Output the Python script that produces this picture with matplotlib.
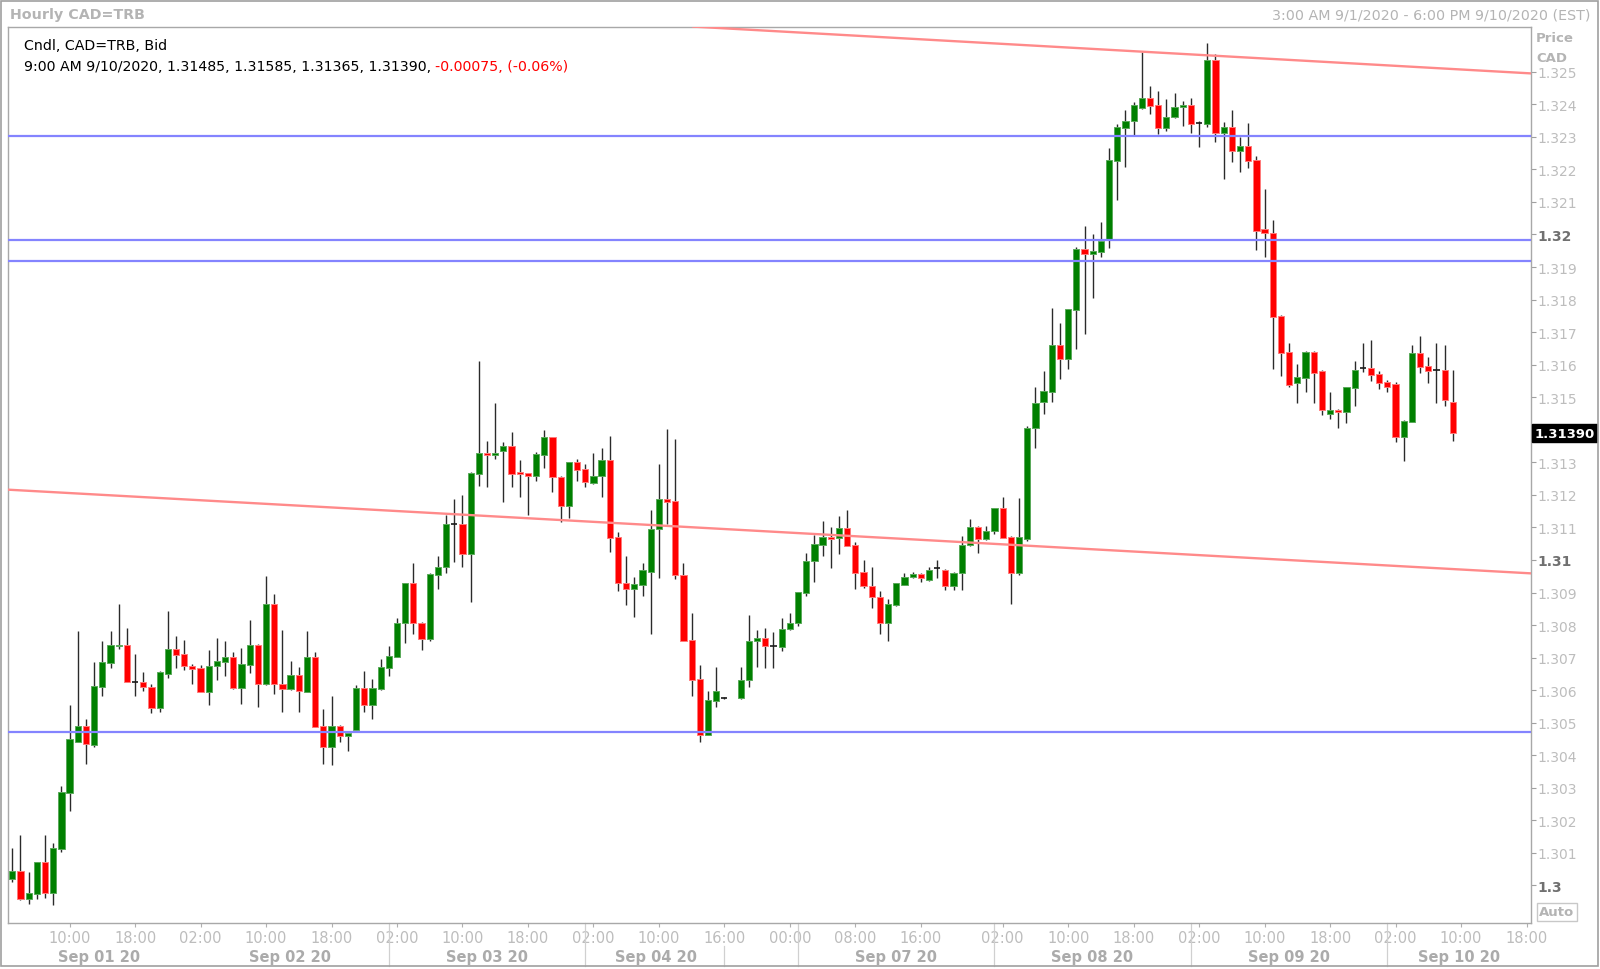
import numpy as np
import matplotlib
matplotlib.use('Agg')
import matplotlib.pyplot as plt
import matplotlib.transforms as mtransforms
from matplotlib.patches import Rectangle

plt.rcParams['font.family'] = ['DejaVu Sans']

# hourly CAD=TRB candles, 3:00 AM 9/1/2020 .. 9:00 AM 9/10/2020 (EST)
# one entry per hour slot, None = no trading (weekend gap)
opens = [
    1.30020, 1.30045, 1.29958, 1.29975, 1.30071, 1.29977, 1.30112, 1.30284, 1.30442, 1.30491,
    1.30432, 1.30609, 1.30685, 1.30735, 1.30740, 1.30626, 1.30626, 1.30611, 1.30544, 1.30649,
    1.30726, 1.30711, 1.30675, 1.30667, 1.30595, 1.30673, 1.30687, 1.30701, 1.30608, 1.30678,
    1.30739, 1.30618, 1.30865, 1.30620, 1.30603, 1.30647, 1.30595, 1.30701, 1.30491, 1.30427,
    1.30491, 1.30460, 1.30478, 1.30606, 1.30554, 1.30604, 1.30668, 1.30703, 1.30805, 1.30929,
    1.30806, 1.30757, 1.30955, 1.30977, 1.31110, 1.31110, 1.31018, 1.31264, 1.31328, 1.31324,
    1.31334, 1.31349, 1.31271, 1.31266, 1.31258, 1.31324, 1.31377, 1.31256, 1.31165, 1.31300,
    1.31280, 1.31237, 1.31257, 1.31307, 1.31070, 1.30929, 1.30910, 1.30924, 1.30964, 1.31094,
    1.31187, 1.31180, 1.30955, 1.30754, 1.30635, 1.30461, 1.30568, 1.30575, None, 1.30575,
    1.30631, 1.30750, 1.30759, 1.30735, 1.30734, 1.30788, 1.30805, 1.30898, 1.30996, 1.31047,
    1.31070, 1.31067, 1.31097, 1.31046, 1.30962, 1.30921, 1.30885, 1.30805, 1.30862, 1.30924,
    1.30948, 1.30957, 1.30938, 1.30975, 1.30970, 1.30919, 1.30959, 1.31046, 1.31102, 1.31064,
    1.31088, 1.31159, 1.31071, 1.30960, 1.31065, 1.31405, 1.31484, 1.31517, 1.31660, 1.31617,
    1.31769, 1.31954, 1.31939, 1.31946, 1.31984, 1.32227, 1.32327, 1.32349, 1.32389, 1.32419,
    1.32398, 1.32327, 1.32360, 1.32391, 1.32398, 1.32342, 1.32339, 1.32537, 1.32311, 1.32329,
    1.32258, 1.32271, 1.32230, 1.32016, 1.32005, 1.31751, 1.31638, 1.31544, 1.31559, 1.31640,
    1.31582, 1.31448, 1.31462, 1.31454, 1.31529, 1.31589, 1.31590, 1.31570, 1.31546, 1.31541,
    1.31377, 1.31425, 1.31636, 1.31595, 1.31583, 1.31584, 1.31485,
]
highs = [
    1.30114, 1.30155, 1.30040, 1.30073, 1.30155, 1.30132, 1.30307, 1.30555, 1.30781, 1.30511,
    1.30687, 1.30750, 1.30781, 1.30865, 1.30790, 1.30711, 1.30655, 1.30619, 1.30658, 1.30842,
    1.30765, 1.30754, 1.30681, 1.30677, 1.30722, 1.30759, 1.30751, 1.30716, 1.30730, 1.30815,
    1.30741, 1.30952, 1.30895, 1.30786, 1.30689, 1.30670, 1.30781, 1.30716, 1.30542, 1.30581,
    1.30493, 1.30468, 1.30617, 1.30660, 1.30634, 1.30696, 1.30737, 1.30822, 1.30930, 1.30991,
    1.30808, 1.30959, 1.31012, 1.31139, 1.31187, 1.31200, 1.31270, 1.31610, 1.31365, 1.31482,
    1.31364, 1.31394, 1.31307, 1.31268, 1.31331, 1.31400, 1.31379, 1.31258, 1.31302, 1.31310,
    1.31295, 1.31328, 1.31343, 1.31380, 1.31085, 1.31011, 1.30947, 1.30990, 1.31155, 1.31295,
    1.31401, 1.31372, 1.30990, 1.30836, 1.30676, 1.30599, 1.30670, 1.30578, None, 1.30670,
    1.30831, 1.30786, 1.30790, 1.30780, 1.30822, 1.30837, 1.30901, 1.31020, 1.31077, 1.31119,
    1.31102, 1.31136, 1.31155, 1.31056, 1.31000, 1.30979, 1.30905, 1.30880, 1.30930, 1.30959,
    1.30962, 1.30959, 1.30979, 1.31000, 1.30972, 1.30963, 1.31074, 1.31125, 1.31104, 1.31103,
    1.31161, 1.31195, 1.31073, 1.31190, 1.31413, 1.31530, 1.31582, 1.31774, 1.31729, 1.31772,
    1.31963, 1.32025, 1.32003, 1.32039, 1.32265, 1.32341, 1.32381, 1.32406, 1.32560, 1.32455,
    1.32440, 1.32416, 1.32434, 1.32411, 1.32419, 1.32348, 1.32588, 1.32555, 1.32347, 1.32384,
    1.32299, 1.32342, 1.32242, 1.32140, 1.32046, 1.31753, 1.31666, 1.31602, 1.31642, 1.31642,
    1.31584, 1.31517, 1.31464, 1.31533, 1.31611, 1.31667, 1.31676, 1.31582, 1.31554, 1.31548,
    1.31431, 1.31661, 1.31687, 1.31625, 1.31667, 1.31661, 1.31585,
]
lows = [
    1.30012, 1.29955, 1.29943, 1.29958, 1.29963, 1.29940, 1.30104, 1.30230, 1.30440, 1.30372,
    1.30424, 1.30583, 1.30667, 1.30728, 1.30624, 1.30583, 1.30598, 1.30530, 1.30532, 1.30638,
    1.30667, 1.30663, 1.30618, 1.30595, 1.30554, 1.30630, 1.30644, 1.30603, 1.30559, 1.30652,
    1.30548, 1.30616, 1.30589, 1.30534, 1.30600, 1.30534, 1.30593, 1.30486, 1.30373, 1.30370,
    1.30440, 1.30414, 1.30476, 1.30534, 1.30513, 1.30601, 1.30645, 1.30701, 1.30744, 1.30773,
    1.30723, 1.30752, 1.30911, 1.30960, 1.30995, 1.30977, 1.30870, 1.31228, 1.31223, 1.31310,
    1.31179, 1.31223, 1.31192, 1.31138, 1.31244, 1.31284, 1.31208, 1.31118, 1.31129, 1.31244,
    1.31223, 1.31234, 1.31195, 1.31024, 1.30904, 1.30863, 1.30824, 1.30890, 1.30773, 1.30945,
    1.31111, 1.30942, 1.30752, 1.30583, 1.30440, 1.30461, 1.30548, 1.30573, None, 1.30573,
    1.30609, 1.30672, 1.30667, 1.30667, 1.30721, 1.30786, 1.30798, 1.30890, 1.30933, 1.31011,
    1.30975, 1.31018, 1.31042, 1.30911, 1.30914, 1.30854, 1.30772, 1.30752, 1.30860, 1.30924,
    1.30946, 1.30933, 1.30934, 1.30946, 1.30909, 1.30909, 1.30909, 1.31044, 1.31023, 1.31062,
    1.31081, 1.31069, 1.30864, 1.30953, 1.31058, 1.31343, 1.31448, 1.31484, 1.31555, 1.31587,
    1.31649, 1.31693, 1.31805, 1.31932, 1.31959, 1.32107, 1.32207, 1.32307, 1.32385, 1.32370,
    1.32309, 1.32319, 1.32358, 1.32334, 1.32311, 1.32270, 1.32329, 1.32283, 1.32171, 1.32222,
    1.32191, 1.32204, 1.31952, 1.31930, 1.31587, 1.31564, 1.31530, 1.31481, 1.31517, 1.31482,
    1.31446, 1.31434, 1.31405, 1.31420, 1.31474, 1.31579, 1.31551, 1.31524, 1.31515, 1.31362,
    1.31305, 1.31423, 1.31574, 1.31544, 1.31483, 1.31474, 1.31365,
]
closes = [
    1.30045, 1.29958, 1.29977, 1.30071, 1.29977, 1.30114, 1.30288, 1.30450, 1.30491, 1.30434,
    1.30612, 1.30687, 1.30740, 1.30740, 1.30624, 1.30625, 1.30609, 1.30544, 1.30655, 1.30726,
    1.30708, 1.30673, 1.30665, 1.30595, 1.30675, 1.30689, 1.30701, 1.30608, 1.30680, 1.30739,
    1.30618, 1.30865, 1.30618, 1.30603, 1.30646, 1.30598, 1.30701, 1.30488, 1.30427, 1.30491,
    1.30460, 1.30468, 1.30606, 1.30554, 1.30606, 1.30670, 1.30704, 1.30806, 1.30929, 1.30805,
    1.30758, 1.30957, 1.30979, 1.31110, 1.31109, 1.31018, 1.31266, 1.31328, 1.31324, 1.31328,
    1.31349, 1.31264, 1.31264, 1.31258, 1.31325, 1.31377, 1.31256, 1.31165, 1.31300, 1.31277,
    1.31239, 1.31259, 1.31307, 1.31068, 1.30929, 1.30910, 1.30926, 1.30970, 1.31095, 1.31187,
    1.31179, 1.30954, 1.30752, 1.30632, 1.30461, 1.30570, 1.30599, 1.30575, None, 1.30631,
    1.30752, 1.30759, 1.30735, 1.30736, 1.30788, 1.30806, 1.30901, 1.30996, 1.31049, 1.31070,
    1.31066, 1.31097, 1.31044, 1.30959, 1.30919, 1.30885, 1.30805, 1.30864, 1.30928, 1.30949,
    1.30957, 1.30944, 1.30970, 1.30974, 1.30919, 1.30961, 1.31046, 1.31102, 1.31064, 1.31090,
    1.31159, 1.31069, 1.30959, 1.31071, 1.31406, 1.31482, 1.31519, 1.31660, 1.31617, 1.31770,
    1.31954, 1.31939, 1.31949, 1.31979, 1.32229, 1.32329, 1.32350, 1.32398, 1.32419, 1.32394,
    1.32327, 1.32360, 1.32391, 1.32398, 1.32339, 1.32341, 1.32537, 1.32311, 1.32329, 1.32258,
    1.32271, 1.32227, 1.32010, 1.32004, 1.31748, 1.31635, 1.31539, 1.31561, 1.31640, 1.31574,
    1.31462, 1.31462, 1.31454, 1.31531, 1.31584, 1.31588, 1.31569, 1.31544, 1.31533, 1.31377,
    1.31426, 1.31636, 1.31594, 1.31582, 1.31582, 1.31490, 1.31390,
]

# horizontal levels and trend lines drawn on the chart
levels = [1.32302, 1.31983, 1.31919, 1.30472]
upper_trend = [(83, 1.32639), (185.5, 1.32495)]
lower_trend = [(-0.5, 1.31216), (185.5, 1.30959)]

hour_ticks = [7, 15, 23, 31, 39, 47, 55, 63, 71, 79, 87, 95, 103, 111,
              121, 129, 137, 145, 153, 161, 169, 177, 185]
hour_labels = ['10:00', '18:00', '02:00', '10:00', '18:00', '02:00', '10:00', '18:00',
               '02:00', '10:00', '16:00', '00:00', '08:00', '16:00', '02:00', '10:00',
               '18:00', '02:00', '10:00', '18:00', '02:00', '10:00', '18:00']
day_labels = ['Sep 01 20', 'Sep 02 20', 'Sep 03 20', 'Sep 04 20',
              'Sep 07 20', 'Sep 08 20', 'Sep 09 20', 'Sep 10 20']
day_centers = [10.6, 33.9, 58.0, 78.6, 108.0, 131.9, 156.0, 176.8]
day_breaks = [46, 70, 96, 120, 144, 168]
gap_break = 87

last_price = 1.31390
last_change = -0.00075
last_change_pct = -0.06

W, H = 1600, 970
fig = plt.figure(figsize=(W / 100, H / 100), dpi=100)
ax = fig.add_axes([8.2 / W, 1 - 923.5 / H, 1522.4 / W, 895.9 / H])

o = np.array(opens, dtype=float)
h = np.array(highs, dtype=float)
l = np.array(lows, dtype=float)
c = np.array(closes, dtype=float)
x = np.arange(len(o))

ok = ~np.isnan(o)
up = ok & (c - o > 0.000012)
down = ok & (o - c > 0.000012)
flat = ok & ~up & ~down

bw = 0.76
ax.vlines(x[ok], l[ok], h[ok], color='#2a2a2a', lw=1.0, zorder=2)
ax.bar(x[up], (c - o)[up], bottom=o[up], width=bw, color='#008000',
       edgecolor='#5aaa5a', lw=0.7, zorder=3)
ax.bar(x[down], (o - c)[down], bottom=c[down], width=bw, color='#ff0000',
       edgecolor='#ff7a7a', lw=0.7, zorder=3)
ax.hlines(o[flat], x[flat] - bw / 2, x[flat] + bw / 2, color='#1a1a1a', lw=1.2, zorder=3)

for lv in levels:
    ax.axhline(lv, color='#8484ff', lw=1.6, zorder=4)
ax.axline(upper_trend[0], upper_trend[1], color='#ff8a8a', lw=1.7, zorder=4)
ax.axline(lower_trend[0], lower_trend[1], color='#ff8a8a', lw=1.7, zorder=4)

ax.set_xlim(-0.5, 185.5)
ax.set_ylim(1.298863, 1.326387)

# right price axis
ax.yaxis.tick_right()
yt = np.round(np.arange(1.300, 1.3255, 0.001), 3)
ylab = []
for v in yt:
    s = ('%.3f' % v).rstrip('0')
    if abs(v - 1.314) < 1e-9:
        s = ''
    ylab.append(s)
ax.set_yticks(yt, ylab)
ax.tick_params(axis='y', length=3.5, width=0.8, color='#a0a0a0', pad=1.5,
               labelsize=10, labelcolor='#bdbdbd')
for v, t in zip(yt, ax.get_yticklabels()):
    if abs(v * 100 - round(v * 100)) < 1e-6:
        t.set_fontweight('bold')
        t.set_color('#707070')

# time axis
ax.set_xticks(hour_ticks, hour_labels)
ax.tick_params(axis='x', length=3, width=0.8, color='#b0b0b0', pad=2.5,
               labelsize=10.5, labelcolor='#bdbdbd')

xtr = ax.get_xaxis_transform()
for xc, lbl in zip(day_centers, day_labels):
    ax.text(xc, -0.0374, lbl, transform=xtr, ha='center', va='center',
            fontsize=10.5, fontweight='bold', color='#ababab')
for b in day_breaks:
    ax.plot([b, b], [0, -0.048], transform=xtr, clip_on=False, color='#d0d0d0', lw=0.9)
ax.plot([gap_break, gap_break], [-0.026, -0.048], transform=xtr, clip_on=False,
        color='#d0d0d0', lw=0.9)

for sp in ax.spines.values():
    sp.set_color('#a8a8a8')
    sp.set_linewidth(1.0)

# last price box
btr = mtransforms.blended_transform_factory(ax.transAxes, ax.transData)
ax.text(1.0025, last_price, '%.5f' % last_price, transform=btr, ha='left', va='center',
        fontsize=9.5, fontweight='bold', color='white', zorder=10, clip_on=False,
        bbox=dict(facecolor='black', edgecolor='black', pad=1.6))

# header texts
fig.text(10 / W, 1 - 15.5 / H, 'Hourly CAD=TRB', ha='left', va='center',
         fontsize=10.3, fontweight='bold', color='#b4b4b4')
fig.text(1590 / W, 1 - 15.5 / H, '3:00 AM 9/1/2020 - 6:00 PM 9/10/2020 (EST)',
         ha='right', va='center', fontsize=10.3, color='#b4b4b4')
fig.text(1536 / W, 1 - 38 / H, 'Price', ha='left', va='center',
         fontsize=9.5, fontweight='bold', color='#b4b4b4')
fig.text(1536 / W, 1 - 59 / H, 'CAD', ha='left', va='center',
         fontsize=9.5, fontweight='bold', color='#b4b4b4')
fig.text(1557 / W, 1 - 913 / H, 'Auto', ha='center', va='center',
         fontsize=9.5, fontweight='bold', color='#b4b4b4',
         bbox=dict(facecolor='white', edgecolor='#c8c8c8', pad=1.5))

t1 = fig.text(23.5 / W, 1 - 46 / H, 'Cndl, CAD=TRB, Bid', ha='left', va='center',
              fontsize=10.2, color='black')
t2 = fig.text(23.5 / W, 1 - 67 / H,
              '9:00 AM 9/10/2020, %.5f, %.5f, %.5f, %.5f, ' % (o[-1], h[-1], l[-1], c[-1]),
              ha='left', va='center', fontsize=10.2, color='black')
fig.canvas.draw()
bb = t2.get_window_extent()
fig.text(bb.x1 / W, 1 - 67 / H, '%.5f, (%.2f%%)' % (last_change, last_change_pct),
         ha='left', va='center', fontsize=10.2, color='#ff0000')

fig.patches.append(Rectangle((0.5 / W, 3 / H), 1597 / W, 965 / H, transform=fig.transFigure,
                             fill=False, edgecolor='#a0a0a0', lw=1.2))

fig.savefig('out.png', dpi=100)
